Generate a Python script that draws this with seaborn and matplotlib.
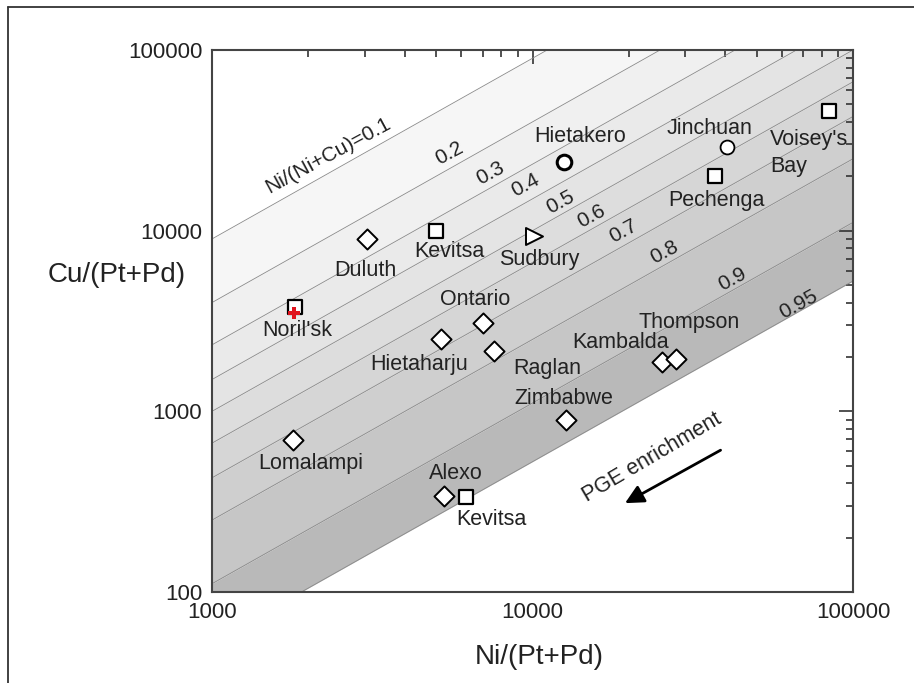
import numpy as np
import pandas as pd
import matplotlib
matplotlib.use("Agg")
import matplotlib.pyplot as plt
import seaborn as sns
from matplotlib import font_manager
from matplotlib.lines import Line2D
from matplotlib.ticker import LogLocator, NullFormatter, FixedLocator, FixedFormatter

# ---------------- data ----------------
site_names = ["Duluth", "Kevitsa", "Sudbury", "Hietakero", "Jinchuan", "Pechenga",
              "Voisey's Bay", "Noril'sk", "Ontario", "Hietaharju", "Raglan",
              "Kambalda", "Thompson", "Zimbabwe", "Lomalampi", "Alexo", "Kevitsa"]
ni_ptpd = [3050, 5000, 10100, 12500, 40500, 37000, 84000, 1820, 7000, 5200, 7600,
           25300, 28000, 12700, 1790, 5300, 6200]
cu_ptpd = [9000, 10000, 9300, 24000, 29000, 20000, 46000, 3800, 3100, 2500, 2170,
           1870, 1950, 900, 690, 340, 335]
site_kind = ["diamond", "square", "triangle", "circle_thick", "circle", "square",
             "square", "square", "diamond", "diamond", "diamond", "diamond",
             "diamond", "diamond", "diamond", "diamond", "square"]

norilsk_cross_x = [1800]
norilsk_cross_y = [3500]

label_text = ["Duluth", "Kevitsa", "Sudbury", "Hietakero", "Jinchuan", "Pechenga",
              "Voisey's", "Bay", "Noril'sk", "Ontario", "Hietaharju", "Raglan",
              "Kambalda", "Thompson", "Zimbabwe", "Lomalampi", "Alexo", "Kevitsa"]
label_x = [3000, 5500, 10500, 14100, 35800, 37500, 55000, 55000, 1850, 6600, 4430,
           11100, 18800, 30900, 12500, 2030, 5750, 7430]
label_y = [6020, 7690, 6920, 33200, 36650, 14700, 32100, 22560, 2790, 4170, 1826,
           1727, 2400, 3100, 1182, 515, 455, 251]

ratios = [0.1, 0.2, 0.3, 0.4, 0.5, 0.6, 0.7, 0.8, 0.9, 0.95]
ratio_labels = ["Ni/(Ni+Cu)=0.1", "0.2", "0.3", "0.4", "0.5", "0.6", "0.7",
                "0.8", "0.9", "0.95"]
ratio_label_x = [2300, 5500, 7400, 9530, 12200, 15300, 19200, 25800, 41900, 67400]
ratio_label_y = [26240, 26980, 20750, 17750, 14360, 12020, 9950, 7610, 5354, 3900]
band_colors = ["#f6f6f6", "#f0f0f0", "#eaeaea", "#e4e4e4", "#dddddd", "#d6d6d6",
               "#cfcfcf", "#c6c6c6", "#b9b9b9"]

x_ticks = [1000, 10000, 100000]
x_tick_labels = ["1000", "10000", "100000"]
y_ticks = [100, 1000, 10000, 100000]
y_tick_labels = ["100", "1000", "10000", "100000"]

# ---------------- figure ----------------
sns.set_style("white")
installed = {f.name for f in font_manager.fontManager.ttflist}
if "Liberation Sans Narrow" in installed:
    FAM = ["Liberation Sans Narrow", "DejaVu Sans"]
    K = 1.18
else:
    FAM = ["Liberation Sans", "DejaVu Sans"]
    K = 1.0
plt.rcParams["font.family"] = FAM

fig = plt.figure(figsize=(9.14, 6.83), dpi=100)
ax = fig.add_axes([212 / 914, 1 - 592 / 683, 641 / 914, 542 / 683])
ax.set_xscale("log")
ax.set_yscale("log")
ax.set_xlim(1000, 100000)
ax.set_ylim(100, 100000)

xg = np.geomspace(1000, 100000, 50)
curves = [xg * (1 - r) / r for r in ratios]
for i, col in enumerate(band_colors):
    ax.fill_between(xg, curves[i + 1], curves[i], color=col, lw=0, zorder=0)
for c in curves:
    ax.plot(xg, c, color="#8a8a8a", lw=0.6, zorder=1)

df = pd.DataFrame({"site": site_names, "ni": ni_ptpd, "cu": cu_ptpd, "kind": site_kind})
styles = {
    "diamond": dict(marker="D", s=105, linewidth=1.4),
    "square": dict(marker="s", s=110, linewidth=1.6),
    "triangle": dict(marker=">", s=150, linewidth=1.4),
    "circle_thick": dict(marker="o", s=110, linewidth=2.2),
    "circle": dict(marker="o", s=100, linewidth=1.3),
}
for k, st in styles.items():
    sub = df[df["kind"] == k]
    sns.scatterplot(data=sub, x="ni", y="cu", ax=ax, marker=st["marker"], s=st["s"],
                    facecolor="white", edgecolor="black", linewidth=st["linewidth"],
                    zorder=4, legend=False)
sns.scatterplot(x=norilsk_cross_x, y=norilsk_cross_y, ax=ax, marker="P", s=70,
                color="#e0141e", edgecolor="none", zorder=5, legend=False)

fig.canvas.draw()
p1 = ax.transData.transform((1000, 1000))
p2 = ax.transData.transform((100000, 100000))
angle = np.degrees(np.arctan2(p2[1] - p1[1], p2[0] - p1[0]))

for t, x, y in zip(label_text, label_x, label_y):
    ha = "left" if t in ("Voisey's", "Bay") else "center"
    ax.text(x, y, t, ha=ha, va="center", fontsize=15.5 * K, color="#222222", zorder=6)

for t, x, y in zip(ratio_labels, ratio_label_x, ratio_label_y):
    ax.text(x, y, t, ha="center", va="center", fontsize=15 * K, color="#222222",
            rotation=angle - 1, rotation_mode="anchor", zorder=6)

ax.text(23530, 554, "PGE enrichment", ha="center", va="center", fontsize=15.5 * K,
        color="#222222", rotation=angle + 1, rotation_mode="anchor", zorder=6)
ax.annotate("", xy=(19100, 305), xytext=(39300, 620),
            arrowprops=dict(arrowstyle="-|>", color="black", lw=2, mutation_scale=28),
            zorder=6)

# axes styling
ax.xaxis.set_major_locator(FixedLocator(x_ticks))
ax.xaxis.set_major_formatter(FixedFormatter(x_tick_labels))
ax.yaxis.set_major_locator(FixedLocator(y_ticks))
ax.yaxis.set_major_formatter(FixedFormatter(y_tick_labels))
ax.xaxis.set_minor_locator(LogLocator(base=10, subs=np.arange(2, 10)))
ax.yaxis.set_minor_locator(LogLocator(base=10, subs=np.arange(2, 10)))
ax.xaxis.set_minor_formatter(NullFormatter())
ax.yaxis.set_minor_formatter(NullFormatter())
ax.tick_params(which="both", direction="in", top=True, right=True,
               colors="#333333", labelcolor="#222222", width=1.2)
ax.tick_params(which="major", length=10, labelsize=16 * K, pad=7)
ax.tick_params(which="minor", length=5)
for sp in ax.spines.values():
    sp.set_color("#444444")
    sp.set_linewidth(1.5)

ax.set_xlabel("Ni/(Pt+Pd)", fontsize=20 * K, color="#222222", va="center")
ax.xaxis.set_label_coords(0.51, -0.12)
ax.set_ylabel("Cu/(Pt+Pd)", fontsize=20 * K, color="#222222", rotation=0,
              ha="center", va="center")
ax.yaxis.set_label_coords(-0.148, 0.585)

# outer frame (left & top edges of the screenshot)
fig.add_artist(Line2D([8 / 914, 8 / 914], [0, 1 - 7 / 683], transform=fig.transFigure,
                      color="#333333", lw=1.3))
fig.add_artist(Line2D([8 / 914, 1], [1 - 7 / 683, 1 - 7 / 683], transform=fig.transFigure,
                      color="#333333", lw=1.3))

fig.savefig("out.png", dpi=100)
